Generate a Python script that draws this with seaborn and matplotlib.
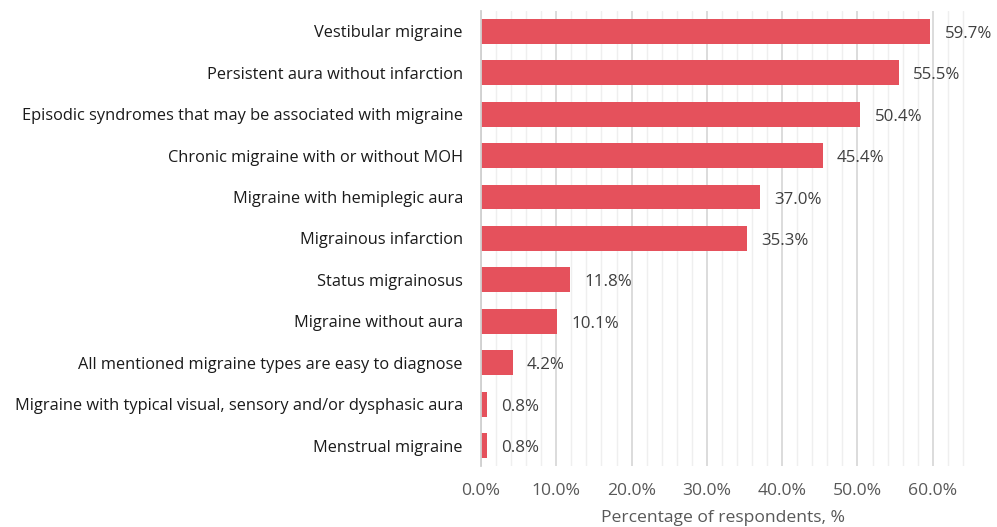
import matplotlib
matplotlib.use('Agg')
import matplotlib.pyplot as plt
import seaborn as sns
import pandas as pd
from matplotlib.ticker import MultipleLocator, FuncFormatter

categories = [
    'Vestibular migraine',
    'Persistent aura without infarction',
    'Episodic syndromes that may be associated with migraine',
    'Chronic migraine with or without MOH',
    'Migraine with hemiplegic aura',
    'Migrainous infarction',
    'Status migrainosus',
    'Migraine without aura',
    'All mentioned migraine types are easy to diagnose',
    'Migraine with typical visual, sensory and/or dysphasic aura',
    'Menstrual migraine',
]
values = [59.7, 55.5, 50.4, 45.4, 37.0, 35.3, 11.8, 10.1, 4.2, 0.8, 0.8]

df = pd.DataFrame({'category': categories, 'value': values})

sns.set_theme(style='white')
plt.rcParams['font.family'] = ['Open Sans', 'DejaVu Sans']

fig, ax = plt.subplots(figsize=(9.97, 5.27), dpi=100)
fig.subplots_adjust(left=0.4825, right=0.968, top=0.98, bottom=0.115)

sns.barplot(data=df, x='value', y='category', color='#E5515C', saturation=1,
            width=0.6, linewidth=0, ax=ax)

ax.set_xlim(0, 64.3)
ax.xaxis.set_major_locator(MultipleLocator(10))
ax.xaxis.set_minor_locator(MultipleLocator(2))
ax.xaxis.set_major_formatter(FuncFormatter(lambda v, p: f'{v:.1f}%'))
ax.grid(axis='x', which='major', color='#d9d9d9', linewidth=1.3)
ax.grid(axis='x', which='minor', color='#efefef', linewidth=1.0)
ax.set_axisbelow(True)

for s in ['top', 'right', 'bottom']:
    ax.spines[s].set_visible(False)
ax.spines['left'].set_color('#d0d0d0')
ax.spines['left'].set_linewidth(1.3)

ax.tick_params(axis='x', which='both', length=0, labelsize=12.6, labelcolor='#595959', pad=12)
ax.tick_params(axis='y', length=0, labelsize=11.8, labelcolor='#1a1a1a', pad=13)

for i, v in enumerate(values):
    ax.text(v + 1.9, i + 0.06, f'{v:.1f}%', va='center', ha='left', fontsize=12.2, color='#404040')

ax.set_ylabel('')
ax.set_xlabel('Percentage of respondents, %', fontsize=12.6, color='#595959', labelpad=8)

fig.savefig('out.png', dpi=100)
